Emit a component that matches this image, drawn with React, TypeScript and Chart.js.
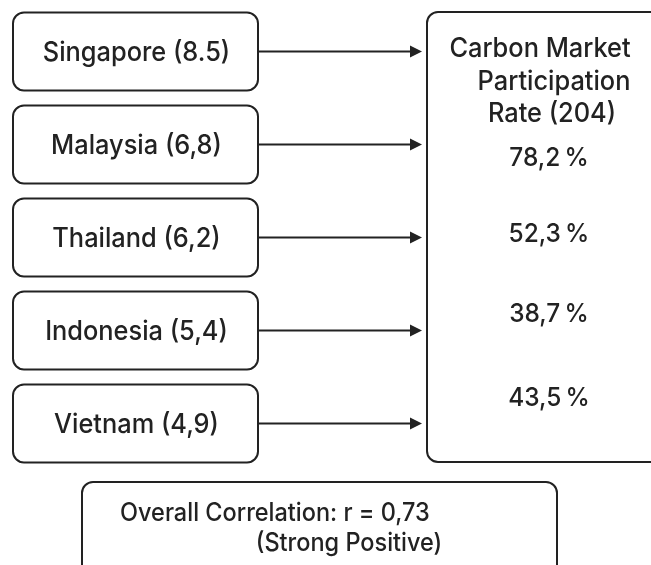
import React, { useEffect, useRef } from "react";
import { Chart, registerables } from "chart.js";

Chart.register(...registerables);

const countries = ["Singapore", "Malaysia", "Thailand", "Indonesia", "Vietnam"];
const scoreLabels = ["8.5", "6,8", "6,2", "5,4", "4,9"];
const rates = [78.2, 52.3, 38.7, 43.5];
const rateTitle = ["Carbon Market", "Participation", "Rate (204)"];
const correlation = "0,73";
const correlationNote = "(Strong Positive)";

const FONT = "Inter, 'Liberation Sans', Arial, sans-serif";
const INK = "#222222";
const SQUEEZE = 0.94;

function fmtRate(v: number) {
  return v.toFixed(1).replace(".", ",") + "\u2009%";
}

function text(ctx: CanvasRenderingContext2D, s: string, x: number, y: number, size: number, align: CanvasTextAlign = "center") {
  ctx.font = `500 ${size}px ${FONT}`;
  ctx.textAlign = align;
  ctx.textBaseline = "alphabetic";
  const w = ctx.measureText(s).width;
  ctx.fillText(s, x, y + size * 0.36, w * SQUEEZE);
}

function roundRect(ctx: CanvasRenderingContext2D, x: number, y: number, w: number, h: number, r: number) {
  ctx.beginPath();
  ctx.moveTo(x + r, y);
  ctx.lineTo(x + w - r, y);
  ctx.arcTo(x + w, y, x + w, y + r, r);
  ctx.lineTo(x + w, y + h - r);
  ctx.arcTo(x + w, y + h, x + w - r, y + h, r);
  ctx.lineTo(x + r, y + h);
  ctx.arcTo(x, y + h, x, y + h - r, r);
  ctx.lineTo(x, y + r);
  ctx.arcTo(x, y, x + r, y, r);
  ctx.closePath();
}

const diagramPlugin = {
  id: "diagram",
  afterDraw(chart: any) {
    const ctx: CanvasRenderingContext2D = chart.ctx;
    const xs = chart.scales.x;
    const ys = chart.scales.y;
    const px = (v: number) => xs.getPixelForValue(v);
    ctx.save();
    ctx.strokeStyle = INK;
    ctx.fillStyle = INK;
    ctx.lineWidth = 2;

    const boxL = px(13), boxR = px(258), boxH = 78;
    const tip = px(422);
    countries.forEach((c, i) => {
      const cy = ys.getPixelForValue(i);
      roundRect(ctx, boxL, cy - boxH / 2, boxR - boxL, boxH, 11);
      ctx.stroke();
      text(ctx, `${c} (${scoreLabels[i]})`, (boxL + boxR) / 2 + 1, cy, 27);
      // arrow
      ctx.beginPath();
      ctx.moveTo(boxR, cy);
      ctx.lineTo(tip - 10, cy);
      ctx.stroke();
      ctx.beginPath();
      ctx.moveTo(tip, cy);
      ctx.lineTo(tip - 12, cy - 6);
      ctx.lineTo(tip - 12, cy + 6);
      ctx.closePath();
      ctx.fill();
    });

    // right box
    const rTop = 12, rBot = 462;
    roundRect(ctx, px(427), rTop, px(700) - px(427), rBot - rTop, 11);
    ctx.stroke();
    const titleX = [540, 554, 552];
    const titleY = [47, 80, 112];
    rateTitle.forEach((t, i) => text(ctx, t, px(titleX[i]), titleY[i], 27));
    const rateY = [157, 233, 313, 397];
    rates.forEach((r, i) => text(ctx, fmtRate(r), px(549), rateY[i], 26));

    // bottom box
    roundRect(ctx, px(82), 482, px(557) - px(82), 120, 11);
    ctx.stroke();
    text(ctx, `Overall Correlation: r = ${correlation}`, px(120), 512, 25, "left");
    text(ctx, correlationNote, px(349), 542, 25);
    ctx.restore();
  },
};

export default function App() {
  const ref = useRef<HTMLCanvasElement>(null);
  useEffect(() => {
    if (!ref.current) return;
    const chart = new Chart(ref.current, {
      type: "scatter",
      data: { labels: countries, datasets: [{ data: [], pointRadius: 0 }] },
      options: {
        animation: false,
        responsive: false,
        events: [],
        layout: { padding: { top: 5, bottom: 95, left: 0, right: 0 } },
        plugins: { legend: { display: false }, tooltip: { enabled: false } },
        scales: {
          x: { type: "linear", min: 0, max: 651, display: false },
          y: { type: "category", labels: countries, offset: true, display: false },
        },
      },
      plugins: [diagramPlugin],
    });
    return () => chart.destroy();
  }, []);
  return (
    <div style={{ position: "fixed", left: 0, top: 0, width: 651, height: 565, background: "#fff" }}>
      <canvas ref={ref} width={651} height={565} style={{ width: 651, height: 565, display: "block" }} />
    </div>
  );
}
